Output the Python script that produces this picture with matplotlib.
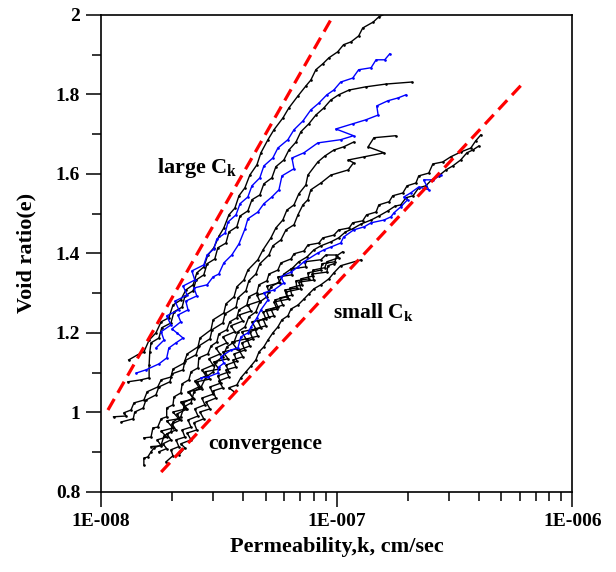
"""
Void ratio vs permeability (e - log k) for the consolidation tests
"""

import matplotlib
matplotlib.use("Agg")
import matplotlib.pyplot as plt
import numpy as np
from matplotlib.ticker import LogLocator, NullFormatter, MultipleLocator

OUT_PATH = "out.png"

# permeability, in units of 1e-8 cm/sec
K_UNIT = 1e-8

# ---- large Ck group ----
l1_k = [1.31, 1.43, 1.52, 1.60, 1.71, 1.80, 1.94, 2.02, 2.18, 2.29, 2.46, 2.55, 2.73, 2.84,
        3.01, 3.17, 3.32, 3.49, 3.70, 3.85, 4.08, 4.28, 4.59, 4.77, 5.11, 5.42, 5.92, 6.27,
        6.85, 7.40, 7.77, 8.16, 8.74, 9.27, 10.1, 10.7, 11.5, 12.4, 12.9, 14.3, 15.1, 16.3]
l1_e = [1.132, 1.145, 1.152, 1.182, 1.200, 1.228, 1.238, 1.270, 1.283, 1.308, 1.321, 1.351,
        1.366, 1.396, 1.414, 1.444, 1.464, 1.497, 1.514, 1.545, 1.565, 1.597, 1.623, 1.653,
        1.686, 1.711, 1.741, 1.766, 1.796, 1.821, 1.836, 1.862, 1.877, 1.892, 1.907, 1.925,
        1.932, 1.947, 1.967, 1.982, 1.995, 2.005]

b1_k = [1.71, 1.85, 1.80, 1.98, 1.90, 2.14, 2.06, 2.32, 2.23, 2.50, 2.43, 2.73, 2.82, 3.01,
        3.10, 3.36, 3.46, 3.74, 3.89, 4.20, 4.37, 4.72, 4.91, 5.36, 5.63, 6.21, 6.59, 7.19,
        7.77, 8.40, 9.09, 9.73, 10.4, 11.7, 12.4, 14.0, 14.7, 16.0, 16.8]
b1_e = [1.162, 1.182, 1.203, 1.220, 1.243, 1.258, 1.280, 1.295, 1.318, 1.333, 1.356, 1.371,
        1.396, 1.411, 1.436, 1.451, 1.479, 1.497, 1.525, 1.542, 1.570, 1.590, 1.620, 1.640,
        1.665, 1.686, 1.711, 1.733, 1.761, 1.778, 1.799, 1.811, 1.831, 1.841, 1.862, 1.867,
        1.887, 1.887, 1.902]

l2_k = [1.30, 1.48, 1.60, 1.60, 1.61, 1.63, 1.76, 1.81, 1.98, 2.04, 2.21, 2.27, 2.46, 2.53,
        2.73, 2.82, 3.04, 3.13, 3.39, 3.49, 3.77, 3.89, 4.20, 4.37, 4.72, 4.91, 5.31, 5.52,
        5.97, 6.27, 6.72, 7.05, 7.62, 8.16, 8.83, 9.45, 10.2, 11.3, 13.3, 16.2, 20.8]
l2_e = [1.077, 1.082, 1.087, 1.119, 1.152, 1.175, 1.187, 1.213, 1.225, 1.253, 1.265, 1.293,
        1.306, 1.333, 1.346, 1.374, 1.386, 1.414, 1.426, 1.454, 1.467, 1.494, 1.507, 1.535,
        1.547, 1.575, 1.590, 1.618, 1.635, 1.660, 1.680, 1.706, 1.726, 1.748, 1.766, 1.786,
        1.799, 1.811, 1.819, 1.826, 1.831]

b2_k = [1.41, 1.55, 1.76, 1.90, 1.94, 2.08, 2.23, 2.10, 2.00, 2.18, 2.12, 2.34, 2.29, 2.55,
        2.48, 2.82, 2.99, 3.16, 3.32, 3.59, 3.85, 4.08, 4.20, 4.63, 4.91, 5.31, 5.69, 5.86,
        6.59, 6.46, 7.26, 8.32, 10.4, 11.8, 9.92, 11.7, 13.3, 15.0, 14.8, 16.5, 18.2, 19.7]
b2_e = [1.099, 1.107, 1.122, 1.137, 1.162, 1.175, 1.187, 1.200, 1.210, 1.228, 1.245, 1.258,
        1.280, 1.293, 1.313, 1.321, 1.341, 1.348, 1.376, 1.396, 1.424, 1.461, 1.487, 1.504,
        1.525, 1.542, 1.560, 1.595, 1.613, 1.640, 1.653, 1.678, 1.686, 1.696, 1.713, 1.726,
        1.736, 1.748, 1.771, 1.784, 1.791, 1.799]

l3_k = [1.13, 1.28, 1.25, 1.34, 1.38, 1.52, 1.57, 1.74, 1.80, 1.98, 2.02, 2.25, 2.32, 2.58,
        2.63, 2.93, 2.99, 3.32, 3.39, 3.67, 3.77, 4.04, 4.20, 4.63, 4.87, 5.26, 5.52, 5.91,
        6.15, 6.59, 6.91, 7.40, 7.55, 8.32, 8.91, 9.73, 10.7, 11.8]
l3_e = [0.989, 0.991, 0.999, 1.006, 1.024, 1.031, 1.052, 1.064, 1.082, 1.089, 1.109, 1.124,
        1.147, 1.165, 1.187, 1.208, 1.233, 1.250, 1.273, 1.291, 1.316, 1.333, 1.358, 1.384,
        1.409, 1.439, 1.464, 1.484, 1.509, 1.522, 1.550, 1.572, 1.597, 1.630, 1.645, 1.660,
        1.668, 1.680]

l4_k = [1.22, 1.37, 1.39, 1.51, 1.55, 1.71, 1.76, 1.96, 2.00, 2.23, 2.27, 2.53, 2.60, 2.90,
        2.96, 3.29, 3.36, 3.74, 3.81, 4.12, 4.24, 4.54, 4.72, 5.16, 5.36, 5.80, 6.09, 6.59,
        6.85, 7.19, 7.55, 7.77, 8.57, 9.45, 11.2, 11.8, 11.2, 13.1, 15.9, 13.6, 14.4, 17.8]
l4_e = [0.976, 0.984, 1.001, 1.011, 1.031, 1.044, 1.064, 1.077, 1.097, 1.107, 1.130, 1.145,
        1.167, 1.185, 1.208, 1.225, 1.248, 1.265, 1.288, 1.306, 1.331, 1.348, 1.374, 1.396,
        1.419, 1.434, 1.459, 1.472, 1.497, 1.522, 1.535, 1.560, 1.577, 1.597, 1.610, 1.628,
        1.635, 1.643, 1.653, 1.668, 1.691, 1.696]

# ---- small Ck group ----
k1_k = [1.52, 1.63, 1.66, 1.74, 1.80, 1.90, 1.90, 2.02, 2.04, 2.18, 2.21, 2.36, 2.41, 2.58,
        2.60, 2.84, 2.93, 3.10, 3.16, 3.42, 3.52, 3.77, 3.85, 4.16, 4.24, 4.59, 4.68, 5.06,
        5.16, 5.63, 5.80, 6.40, 6.59, 7.26, 7.55, 8.40, 8.74, 9.73, 10.2, 11.3, 11.7, 12.9,
        13.4, 14.7, 15.1, 16.7, 17.3, 19.1, 19.9, 21.7, 22.3, 24.6, 25.6, 28.2, 30.5, 33.6,
        37.1, 38.9, 40.9]
k1_e = [0.936, 0.938, 0.961, 0.963, 0.984, 0.989, 1.011, 1.019, 1.039, 1.049, 1.072, 1.082,
        1.102, 1.112, 1.137, 1.147, 1.167, 1.177, 1.197, 1.208, 1.228, 1.238, 1.258, 1.270,
        1.291, 1.301, 1.321, 1.331, 1.348, 1.358, 1.376, 1.386, 1.399, 1.406, 1.421, 1.426,
        1.439, 1.446, 1.459, 1.464, 1.477, 1.482, 1.497, 1.504, 1.522, 1.530, 1.545, 1.552,
        1.570, 1.577, 1.595, 1.602, 1.625, 1.630, 1.643, 1.655, 1.665, 1.683, 1.698]

k2_k = [1.52, 1.52, 1.58, 1.63, 1.68, 1.80, 1.85, 1.98, 2.02, 2.18, 2.25, 2.41, 2.48, 2.66,
        2.79, 2.99, 3.07, 3.29, 3.42, 3.67, 3.81, 4.08, 4.24, 4.54, 4.72, 5.06, 5.26, 5.69,
        5.97, 6.52, 6.91, 7.48, 8.01, 8.57, 9.45, 10.2, 10.9, 11.7, 12.7, 14.0, 15.1, 16.5,
        17.7, 18.7, 19.7, 21.1, 22.3, 23.9, 25.3, 27.1, 29.1, 31.1, 33.6, 35.7, 37.8, 40.1]
k2_e = [0.868, 0.885, 0.888, 0.901, 0.911, 0.918, 0.941, 0.951, 0.976, 0.989, 1.014, 1.024,
        1.052, 1.064, 1.089, 1.102, 1.127, 1.140, 1.165, 1.177, 1.203, 1.215, 1.240, 1.253,
        1.278, 1.291, 1.316, 1.328, 1.348, 1.364, 1.379, 1.391, 1.409, 1.419, 1.429, 1.439,
        1.454, 1.462, 1.474, 1.484, 1.494, 1.507, 1.519, 1.522, 1.540, 1.545, 1.565, 1.570,
        1.585, 1.595, 1.610, 1.620, 1.635, 1.653, 1.660, 1.670]

s1_k = [2.66, 2.84, 3.13, 3.16, 3.32, 3.23, 3.56, 3.81, 3.92, 4.20, 4.33, 4.59, 4.77, 5.11,
        4.91, 5.42, 5.97, 5.80, 6.40, 6.85, 7.26, 8.32, 8.83, 9.45, 10.4, 10.7, 11.8, 13.1,
        14.0, 15.9, 17.0, 17.5, 18.7, 20.0, 19.3, 20.6, 22.3, 24.6, 23.4, 25.6, 27.7]
s1_e = [1.087, 1.089, 1.099, 1.114, 1.124, 1.140, 1.157, 1.162, 1.190, 1.200, 1.215, 1.238,
        1.258, 1.283, 1.301, 1.308, 1.326, 1.341, 1.353, 1.366, 1.379, 1.401, 1.409, 1.416,
        1.426, 1.441, 1.459, 1.467, 1.477, 1.484, 1.492, 1.502, 1.517, 1.535, 1.542, 1.552,
        1.567, 1.560, 1.585, 1.585, 1.597]

kr_k = [3.67, 3.49, 3.77, 3.92, 4.12, 4.33, 4.54, 4.68, 4.91, 5.11, 5.36, 5.63, 5.86, 6.21,
        6.40, 6.85, 7.26, 7.62, 8.01, 8.57, 9.27, 9.73, 10.4, 12.7]
kr_e = [1.052, 1.062, 1.069, 1.087, 1.102, 1.117, 1.132, 1.152, 1.165, 1.182, 1.200, 1.215,
        1.233, 1.243, 1.260, 1.270, 1.285, 1.298, 1.311, 1.321, 1.336, 1.351, 1.369, 1.384]

# the dense, converging bundle
d1_k = [1.76, 1.90, 1.83, 1.98, 1.90, 2.08, 2.00, 2.18, 2.10, 2.32, 2.23, 2.46, 2.36, 2.60,
        2.50, 2.79, 2.68, 2.99, 2.87, 3.20, 3.07, 3.42, 3.29, 3.70, 3.56, 4.00, 3.85, 4.33,
        4.20, 4.72, 4.59, 5.16, 5.06, 5.74, 5.63, 6.46, 6.40, 7.40, 7.33, 8.57, 9.00, 9.92]
d1_e = [0.901, 0.909, 0.921, 0.931, 0.946, 0.956, 0.971, 0.981, 0.996, 1.009, 1.024, 1.036,
        1.052, 1.064, 1.079, 1.092, 1.107, 1.119, 1.135, 1.147, 1.162, 1.175, 1.190, 1.203,
        1.218, 1.230, 1.245, 1.255, 1.270, 1.280, 1.295, 1.303, 1.318, 1.326, 1.341, 1.346,
        1.361, 1.366, 1.379, 1.384, 1.396, 1.396]

d2_k = [1.89, 2.02, 1.98, 2.14, 2.08, 2.27, 2.21, 2.41, 2.34, 2.58, 2.50, 2.76, 2.68, 2.99,
        2.90, 3.23, 3.13, 3.49, 3.39, 3.77, 3.67, 4.08, 3.96, 4.41, 4.28, 4.77, 4.63, 5.16,
        5.01, 5.63, 5.47, 6.15, 6.03, 6.78, 6.72, 7.62, 7.55, 8.57, 8.66, 9.83, 10.0, 10.6]
d2_e = [0.876, 0.891, 0.906, 0.914, 0.931, 0.938, 0.956, 0.963, 0.981, 0.991, 1.009, 1.019,
        1.036, 1.046, 1.064, 1.074, 1.092, 1.102, 1.119, 1.129, 1.147, 1.157, 1.175, 1.185,
        1.203, 1.213, 1.230, 1.240, 1.258, 1.265, 1.283, 1.291, 1.308, 1.313, 1.331, 1.336,
        1.351, 1.358, 1.374, 1.379, 1.394, 1.404]

d3_k = [2.14, 2.27, 2.18, 2.41, 2.32, 2.55, 2.48, 2.73, 2.63, 2.90, 2.79, 3.07, 2.99, 3.29,
        3.16, 3.49, 3.39, 3.74, 3.63, 4.00, 3.85, 4.28, 4.16, 4.63, 4.50, 5.01, 4.87, 5.42,
        5.26, 5.91, 5.74, 6.46, 6.33, 7.12, 7.05, 7.93, 7.93, 8.91, 9.09, 10.2]
d3_e = [0.893, 0.911, 0.921, 0.931, 0.948, 0.956, 0.974, 0.984, 1.001, 1.009, 1.026, 1.036,
        1.054, 1.062, 1.079, 1.089, 1.107, 1.114, 1.132, 1.140, 1.157, 1.167, 1.185, 1.192,
        1.210, 1.218, 1.235, 1.243, 1.260, 1.270, 1.288, 1.295, 1.313, 1.321, 1.336, 1.343,
        1.358, 1.364, 1.379, 1.389]

d4_k = [1.63, 1.80, 1.73, 1.90, 1.80, 2.02, 1.90, 2.14, 2.02, 2.29, 2.18, 2.48, 2.34, 2.68,
        2.55, 2.90, 2.76, 3.16, 3.01, 3.46, 3.29, 3.77, 3.59, 4.12, 3.96, 4.54, 4.37, 5.01,
        4.87, 5.58, 5.42, 6.27, 6.09, 7.05, 6.91, 8.01, 7.85, 9.09, 9.18, 9.73]
d4_e = [0.914, 0.916, 0.931, 0.938, 0.953, 0.961, 0.979, 0.984, 1.001, 1.009, 1.026, 1.034,
        1.052, 1.059, 1.077, 1.084, 1.102, 1.109, 1.127, 1.135, 1.152, 1.160, 1.177, 1.185,
        1.203, 1.210, 1.228, 1.235, 1.253, 1.260, 1.278, 1.285, 1.303, 1.311, 1.328, 1.333,
        1.348, 1.353, 1.369, 1.374]

# bounding lines (red dashed)
red_large_k = [1.07, 9.71]
red_large_e = [1.006, 2.0]
red_small_k = [1.80, 62.0]
red_small_e = [0.850, 1.829]

BLACK_CURVES = [(l1_k, l1_e), (l2_k, l2_e), (l3_k, l3_e), (l4_k, l4_e),
                (k1_k, k1_e), (k2_k, k2_e), (kr_k, kr_e),
                (d1_k, d1_e), (d2_k, d2_e), (d3_k, d3_e), (d4_k, d4_e)]
BLUE_CURVES = [(b1_k, b1_e), (b2_k, b2_e), (s1_k, s1_e)]

X_TICKS = [1e-8, 1e-7, 1e-6]
X_TICK_LABELS = ["1E-008", "1E-007", "1E-006"]
Y_TICKS = [0.8, 1.0, 1.2, 1.4, 1.6, 1.8, 2.0]
Y_TICK_LABELS = ["0.8", "1", "1.2", "1.4", "1.6", "1.8", "2"]


def draw_curve(ax, k, e, color):
    ax.plot(np.array(k) * K_UNIT, e, color=color, lw=1.0,
            marker=".", ms=1.8, zorder=2)


def main():
    plt.rcParams["font.family"] = ["Liberation Serif", "DejaVu Serif"]
    plt.rcParams["font.weight"] = "bold"
    plt.rcParams["axes.labelweight"] = "bold"
    plt.rcParams["mathtext.default"] = "regular"

    fig = plt.figure(figsize=(6.16, 5.72), dpi=100)
    ax = fig.add_axes([0.164, 0.140, 0.765, 0.834])

    for k, e in BLACK_CURVES:
        draw_curve(ax, k, e, "black")
    for k, e in BLUE_CURVES:
        draw_curve(ax, k, e, "#0000ff")

    for k, e in [(red_large_k, red_large_e), (red_small_k, red_small_e)]:
        ax.plot(np.array(k) * K_UNIT, e, color="#ff0000", lw=2.3,
                linestyle=(0, (4, 2.2)), zorder=3)

    ax.text(1.72e-8, 1.602, "large C$_k$", fontsize=16, ha="left", va="baseline")
    ax.text(9.64e-8, 1.238, "small C$_k$", fontsize=15.5, ha="left", va="baseline")
    ax.text(2.84e-8, 0.908, "convergence", fontsize=15.5, ha="left", va="baseline")

    ax.set_xscale("log")
    ax.set_xlim(1e-8, 1e-6)
    ax.set_ylim(0.8, 2.0)

    ax.set_xticks(X_TICKS)
    ax.set_xticklabels(X_TICK_LABELS)
    ax.xaxis.set_minor_locator(LogLocator(base=10, subs=range(2, 10)))
    ax.xaxis.set_minor_formatter(NullFormatter())
    ax.set_yticks(Y_TICKS)
    ax.set_yticklabels(Y_TICK_LABELS)
    ax.yaxis.set_minor_locator(MultipleLocator(0.1))

    ax.tick_params(which="major", direction="out", length=11, width=1.1,
                   labelsize=14, pad=4)
    ax.tick_params(which="minor", direction="out", length=6.5, width=1.1)
    for spine in ax.spines.values():
        spine.set_linewidth(1.2)

    ax.set_xlabel("Permeability,k, cm/sec", fontsize=16, labelpad=5)
    ax.set_ylabel("Void ratio(e)", fontsize=16, labelpad=14)

    fig.savefig(OUT_PATH, dpi=100)
    plt.close(fig)


if __name__ == "__main__":
    main()
